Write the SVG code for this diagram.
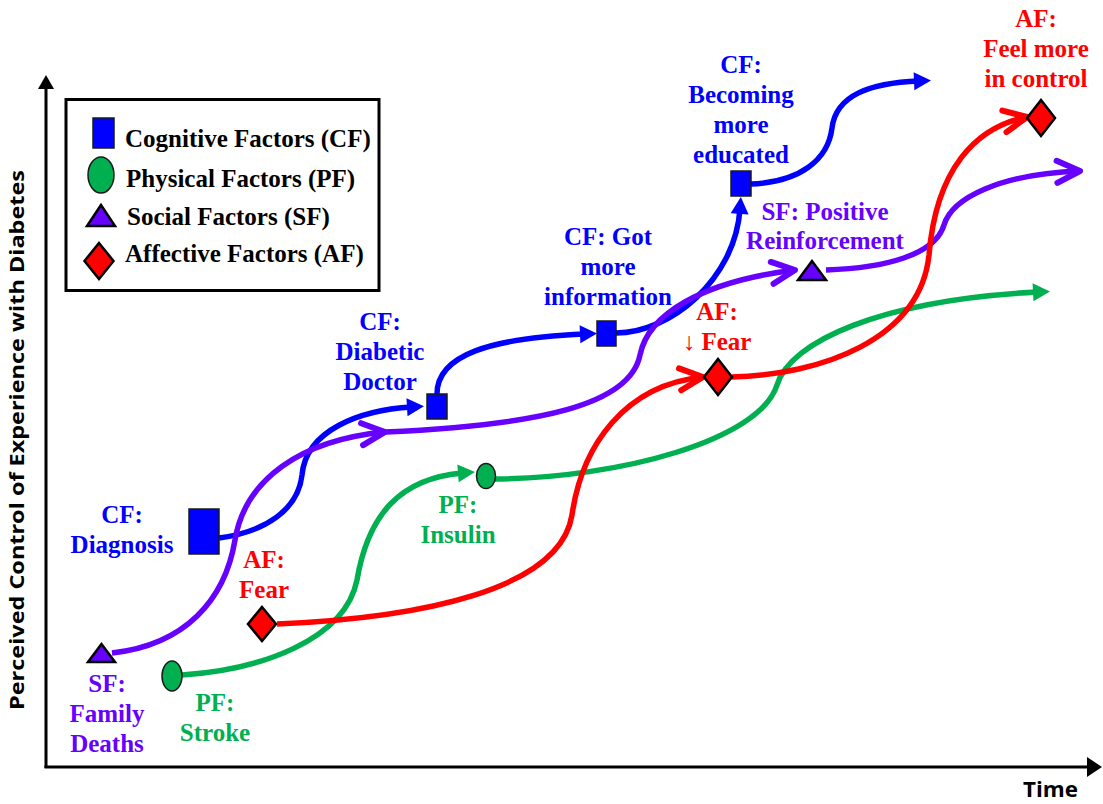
<svg xmlns="http://www.w3.org/2000/svg" width="1103" height="804" viewBox="0 0 1103 804">
  <style>
    .lbl { font-family: "Liberation Serif", "Times New Roman", serif; font-weight: bold; font-size: 25px; text-anchor: middle; }
    .leg { font-family: "Liberation Serif", "Times New Roman", serif; font-weight: bold; font-size: 25px; fill: #000; }
    .axis-t { font-family: "Open Sans", "Liberation Sans", sans-serif; font-weight: bold; fill: #000; }
    .cf { fill: #0000FF; }
    .pf { fill: #00B050; }
    .sf { fill: #6600FF; }
    .af { fill: #FF0000; }
    .link { fill: none; stroke-width: 5.5; stroke-linecap: butt; }
    .blue { stroke: #0000FF; }
    .green { stroke: #00B050; }
    .purple { stroke: #6600FF; }
    .red { stroke: #FF0000; }
    .box { stroke: #1a1a1a; stroke-width: 1.5; }
    .edge { stroke: #000; stroke-width: 2.5; stroke-linejoin: miter; }
  </style>
  <defs>
    <marker id="headBlue" markerUnits="userSpaceOnUse" orient="auto" refX="0" refY="0" markerWidth="20" markerHeight="20" overflow="visible">
      <path d="M-5,-9 L12,0 L-5,9 Z" fill="#0000FF"/>
    </marker>
    <marker id="headGreen" markerUnits="userSpaceOnUse" orient="auto" refX="0" refY="0" markerWidth="20" markerHeight="20" overflow="visible">
      <path d="M-5,-9 L12,0 L-5,9 Z" fill="#00B050"/>
    </marker>
    <marker id="chevPurple" markerUnits="userSpaceOnUse" orient="auto" refX="0" refY="0" markerWidth="20" markerHeight="20" overflow="visible">
      <path d="M-23,-11 L0,0 L-23,11" fill="none" stroke="#6600FF" stroke-width="6" stroke-linecap="round" stroke-linejoin="round"/>
    </marker>
    <marker id="chevRed" markerUnits="userSpaceOnUse" orient="auto" refX="0" refY="0" markerWidth="20" markerHeight="20" overflow="visible">
      <path d="M-23,-11 L0,0 L-23,11" fill="none" stroke="#FF0000" stroke-width="6" stroke-linecap="round" stroke-linejoin="round"/>
    </marker>
  </defs>

  <rect width="1103" height="804" fill="#fff"/>

  <!-- axes -->
  <g id="axes">
    <line x1="46" y1="86" x2="46" y2="768" stroke="#000" stroke-width="3"/>
    <line x1="44.5" y1="767" x2="1089" y2="767" stroke="#000" stroke-width="3"/>
    <polygon points="46,75 38,89 54,89" fill="#000"/>
    <polygon points="1102,767 1087,757 1087,777" fill="#000"/>
    <text class="axis-t" font-size="20" transform="translate(24,440) rotate(-90)" text-anchor="middle" textLength="540" lengthAdjust="spacingAndGlyphs">Perceived Control of Experience with Diabetes</text>
    <text class="axis-t" font-size="22" x="1023" y="797" textLength="55" lengthAdjust="spacingAndGlyphs">Time</text>
  </g>

  <!-- legend -->
  <g id="legend">
    <rect x="66" y="99.5" width="313" height="191" fill="#fff" stroke="#000" stroke-width="3"/>
    <rect class="cf box" x="93" y="118" width="21" height="30"/>
    <text class="leg" x="125" y="147">Cognitive Factors (CF)</text>
    <ellipse class="pf box" cx="101" cy="175" rx="13" ry="18"/>
    <text class="leg" x="126" y="187">Physical Factors (PF)</text>
    <polygon class="sf edge" points="101,205 87,226 115,226"/>
    <text class="leg" x="127" y="225">Social Factors (SF)</text>
    <polygon class="af edge" points="99,243 113.5,261 99,279 84.5,261"/>
    <text class="leg" x="125" y="262">Affective Factors (AF)</text>
  </g>

  <!-- connectors -->
  <g id="connectors">
    <path class="link green" d="M182,675 C260,670 345,640 357,580 C368,515 400,478 463,473" marker-end="url(#headGreen)"/>
    <path class="link green" d="M495,479 C620,478 760,440 777,385 C790,342 880,300 1038,292" marker-end="url(#headGreen)"/>
    <path class="link blue" d="M219,538 C265,532 298,510 302,475 C306,430 360,410 412,407" marker-end="url(#headBlue)"/>
    <path class="link blue" d="M437,394 C437,355 490,338 585,334" marker-end="url(#headBlue)"/>
    <path class="link blue" d="M616,333 C670,333 735,280 740,209" marker-end="url(#headBlue)"/>
    <path class="link blue" d="M751,184 C800,182 828,160 832,128 C836,95 870,83 919,81" marker-end="url(#headBlue)"/>
    <path class="link purple" d="M112,653 C185,645 225,600 235,540 C245,480 300,440 385,432" marker-end="url(#chevPurple)"/>
    <path class="link purple" d="M385,432 C540,425 630,405 640,355 C648,315 700,282 795,270" marker-end="url(#chevPurple)"/>
    <path class="link purple" d="M826,270 C885,268 935,255 944,225 C952,198 1000,174 1080,171" marker-end="url(#chevPurple)"/>
    <path class="link red" d="M277,624 C420,618 560,590 572,515 C582,445 625,385 703,377" marker-end="url(#chevRed)"/>
    <path class="link red" d="M732,377 C820,375 920,340 929,255 C936,170 975,127 1027,117" marker-end="url(#chevRed)"/>
  </g>

  <!-- nodes -->
  <g id="sf-family-deaths">
    <polygon class="sf edge" points="101.5,644 88,662 115,662"/>
    <text class="lbl sf" x="107" y="692">SF:</text>
    <text class="lbl sf" x="107" y="722">Family</text>
    <text class="lbl sf" x="107" y="752">Deaths</text>
  </g>
  <g id="pf-stroke">
    <ellipse class="pf box" cx="172" cy="676" rx="10" ry="15"/>
    <text class="lbl pf" x="215" y="711">PF:</text>
    <text class="lbl pf" x="215" y="741">Stroke</text>
  </g>
  <g id="af-fear">
    <polygon class="af edge" points="262,607 276,624 262,641 248,624"/>
    <text class="lbl af" x="264" y="568">AF:</text>
    <text class="lbl af" x="264" y="598">Fear</text>
  </g>
  <g id="cf-diagnosis">
    <rect class="cf box" x="189" y="509" width="30" height="45"/>
    <text class="lbl cf" x="122" y="523">CF:</text>
    <text class="lbl cf" x="122" y="553">Diagnosis</text>
  </g>
  <g id="cf-diabetic-doctor">
    <rect class="cf box" x="427" y="394" width="20" height="25"/>
    <text class="lbl cf" x="380" y="330">CF:</text>
    <text class="lbl cf" x="380" y="360">Diabetic</text>
    <text class="lbl cf" x="380" y="390">Doctor</text>
  </g>
  <g id="pf-insulin">
    <ellipse class="pf box" cx="486" cy="476" rx="9.5" ry="12.5"/>
    <text class="lbl pf" x="458" y="513">PF:</text>
    <text class="lbl pf" x="458" y="543">Insulin</text>
  </g>
  <g id="cf-more-information">
    <rect class="cf box" x="597" y="321" width="19" height="25"/>
    <text class="lbl cf" x="608" y="245">CF: Got</text>
    <text class="lbl cf" x="608" y="275">more</text>
    <text class="lbl cf" x="608" y="305">information</text>
  </g>
  <g id="af-less-fear">
    <polygon class="af edge" points="718,359 732,377 718,395 704,377"/>
    <text class="lbl af" x="717" y="320">AF:</text>
    <text class="lbl af" x="717" y="350">↓ Fear</text>
  </g>
  <g id="cf-more-educated">
    <rect class="cf box" x="731" y="171" width="20" height="25"/>
    <text class="lbl cf" x="741" y="73">CF:</text>
    <text class="lbl cf" x="741" y="103">Becoming</text>
    <text class="lbl cf" x="741" y="133">more</text>
    <text class="lbl cf" x="741" y="163">educated</text>
  </g>
  <g id="sf-positive-reinforcement">
    <polygon class="sf edge" points="812,261 798,280 826,280"/>
    <text class="lbl sf" x="825" y="220">SF: Positive</text>
    <text class="lbl sf" x="825" y="249">Reinforcement</text>
  </g>
  <g id="af-in-control">
    <polygon class="af edge" points="1041,100 1055,118 1041,136 1027,118"/>
    <text class="lbl af" x="1036" y="27">AF:</text>
    <text class="lbl af" x="1036" y="57">Feel more</text>
    <text class="lbl af" x="1036" y="87">in control</text>
  </g>
</svg>
